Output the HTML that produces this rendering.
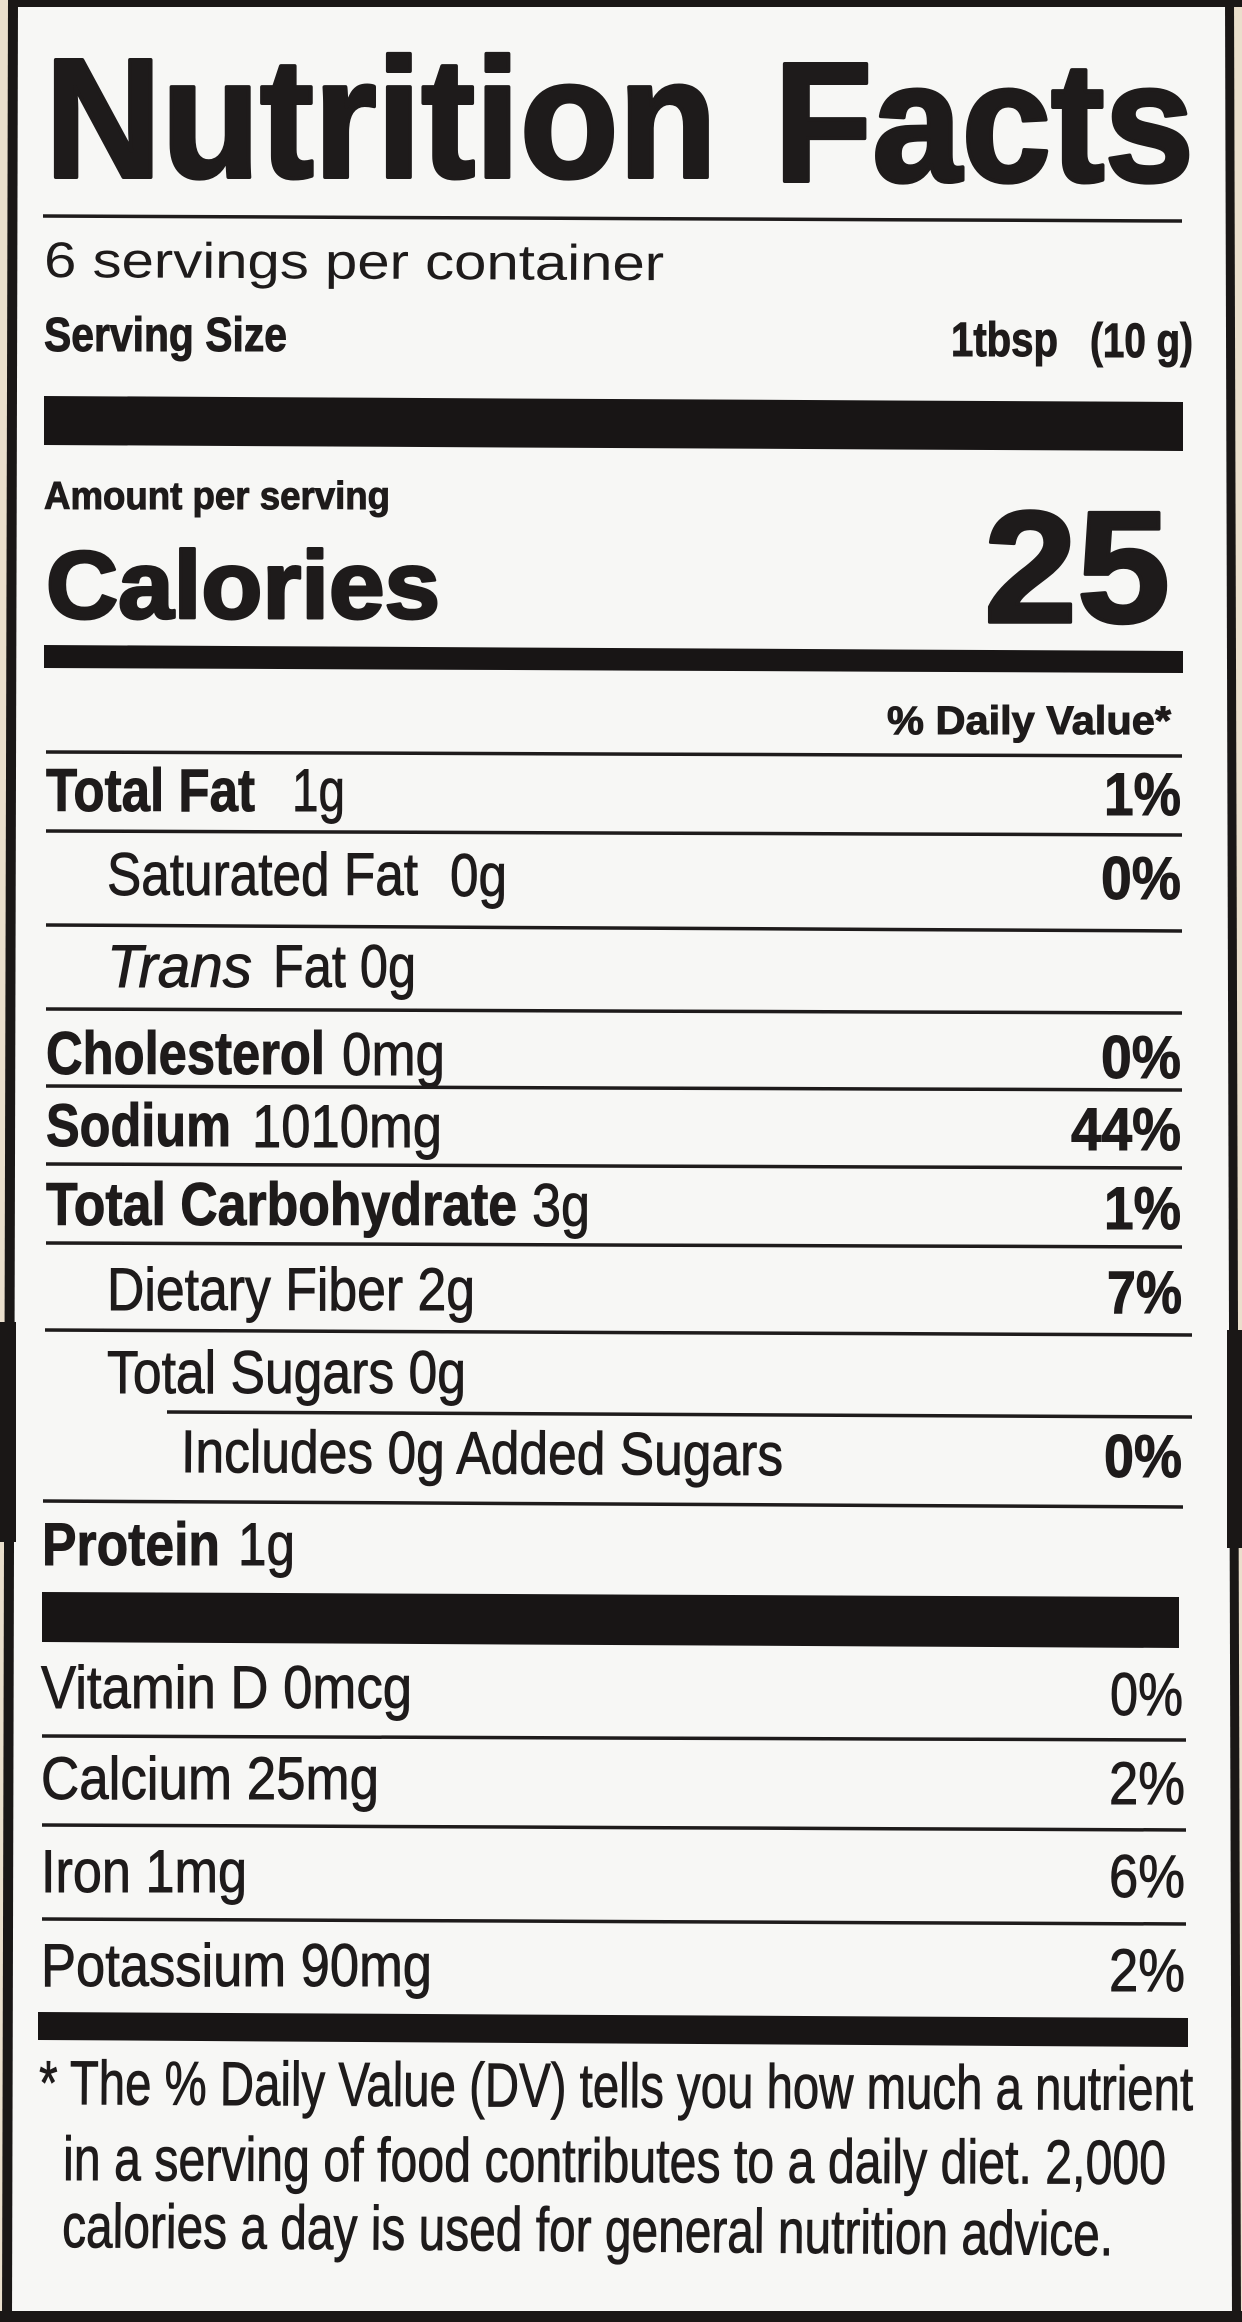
<!DOCTYPE html>
<html>
<head>
<meta charset="utf-8">
<style>
  html,body{margin:0;padding:0;background:#eadfcc;}
  svg{display:block;}
  text{font-family:"Liberation Sans", Arial, sans-serif; fill:#1e1b1b;}
  .b{font-weight:bold; stroke:#1e1b1b; stroke-width:1;}
  .r{font-weight:normal; stroke:#1e1b1b; stroke-width:0.9;}
  .n{font-weight:normal;}
</style>
</head>
<body>
<svg width="1242" height="2322" viewBox="0 0 1242 2322" xmlns="http://www.w3.org/2000/svg">
  <!-- background / frame -->
  <rect x="0" y="0" width="1242" height="2322" fill="#eadfcc"/>
  <polygon points="14,5 1230,5 1236,2312 8,2312" fill="#f7f7f5"/>
  <rect x="8" y="0" width="1234" height="7" fill="#1a1716"/>
  <polygon points="8,0 18,0 12,2322 2,2322" fill="#1a1716"/>
  <polygon points="1225,0 1234,0 1241,2322 1232,2322" fill="#1a1716"/>
  <rect x="0" y="2311" width="1242" height="11" fill="#1a1716"/>
  <rect x="0" y="1322" width="16" height="220" fill="#1a1716"/>
  <rect x="1227" y="1330" width="15" height="218" fill="#1a1716"/>

  <!-- Title -->
  <text class="b" x="45" y="177" font-size="170" textLength="672" lengthAdjust="spacingAndGlyphs" stroke="#1e1b1b" stroke-width="4" stroke-linejoin="round" style="stroke-width:4">Nutrition</text>
  <text class="b" x="774" y="181" font-size="170" textLength="420" lengthAdjust="spacingAndGlyphs" stroke="#1e1b1b" stroke-width="4" stroke-linejoin="round" style="stroke-width:4">Facts</text>

  <line x1="43" y1="216" x2="1182" y2="221" stroke="#1e1b1b" stroke-width="3.5"/>

  <text class="n" x="44" y="277" font-size="50" textLength="620" lengthAdjust="spacingAndGlyphs" transform="rotate(0.3 44 277)">6 servings per container</text>
  <text class="b" x="44" y="351" font-size="48" textLength="243" lengthAdjust="spacingAndGlyphs">Serving Size</text>
  <text class="b" x="951" y="356" font-size="48" textLength="107" lengthAdjust="spacingAndGlyphs">1tbsp</text>
  <text class="b" x="1090" y="357" font-size="48" textLength="103" lengthAdjust="spacingAndGlyphs">(10 g)</text>

  <polygon points="44,396 1183,402 1183,451 44,445" fill="#181515"/>

  <text class="b" x="44" y="509" font-size="39" textLength="346" lengthAdjust="spacingAndGlyphs">Amount per serving</text>
  <text class="b" x="46" y="618" font-size="96" textLength="394" lengthAdjust="spacingAndGlyphs" stroke-linejoin="round" style="stroke-width:3">Calories</text>
  <text class="b" x="984" y="622" font-size="159" textLength="186" lengthAdjust="spacingAndGlyphs" stroke-linejoin="round" style="stroke-width:3.5">25</text>

  <polygon points="44,645 1183,651 1183,673 44,668" fill="#181515"/>

  <text class="b" x="887" y="734" font-size="40" textLength="284" lengthAdjust="spacingAndGlyphs">% Daily Value*</text>
  <line x1="46" y1="752" x2="1182" y2="756" stroke="#1e1b1b" stroke-width="3.5"/>

  <!-- Total Fat -->
  <text class="b" x="46" y="811" font-size="60" textLength="209" lengthAdjust="spacingAndGlyphs">Total Fat</text>
  <text class="r" x="292" y="811" font-size="60" textLength="53" lengthAdjust="spacingAndGlyphs">1g</text>
  <text class="b" x="1104" y="815" font-size="60" textLength="77" lengthAdjust="spacingAndGlyphs">1%</text>
  <line x1="46" y1="831" x2="1182" y2="835" stroke="#1e1b1b" stroke-width="3.5"/>

  <!-- Saturated Fat -->
  <text class="r" x="107" y="895" font-size="60" textLength="311" lengthAdjust="spacingAndGlyphs">Saturated Fat</text>
  <text class="r" x="450" y="896" font-size="60" textLength="57" lengthAdjust="spacingAndGlyphs">0g</text>
  <text class="b" x="1101" y="899" font-size="60" textLength="80" lengthAdjust="spacingAndGlyphs">0%</text>
  <line x1="46" y1="925" x2="1182" y2="931" stroke="#1e1b1b" stroke-width="3.5"/>

  <!-- Trans Fat -->
  <text class="r" x="107" y="987" font-size="60" font-style="italic" textLength="145" lengthAdjust="spacingAndGlyphs">Trans</text>
  <text class="r" x="273" y="987" font-size="60" textLength="143" lengthAdjust="spacingAndGlyphs">Fat 0g</text>
  <line x1="46" y1="1009" x2="1182" y2="1013" stroke="#1e1b1b" stroke-width="3.5"/>

  <!-- Cholesterol -->
  <text class="b" x="46" y="1074" font-size="60" textLength="279" lengthAdjust="spacingAndGlyphs">Cholesterol</text>
  <text class="r" x="342" y="1075" font-size="60" textLength="103" lengthAdjust="spacingAndGlyphs">0mg</text>
  <text class="b" x="1101" y="1078" font-size="60" textLength="80" lengthAdjust="spacingAndGlyphs">0%</text>
  <line x1="46" y1="1086" x2="1182" y2="1090" stroke="#1e1b1b" stroke-width="3.5"/>

  <!-- Sodium -->
  <text class="b" x="46" y="1146" font-size="60" textLength="185" lengthAdjust="spacingAndGlyphs">Sodium</text>
  <text class="r" x="252" y="1147" font-size="60" textLength="190" lengthAdjust="spacingAndGlyphs">1010mg</text>
  <text class="b" x="1071" y="1150" font-size="60" textLength="110" lengthAdjust="spacingAndGlyphs">44%</text>
  <line x1="46" y1="1164" x2="1182" y2="1168" stroke="#1e1b1b" stroke-width="3.5"/>

  <!-- Total Carbohydrate -->
  <text class="b" x="46" y="1225" font-size="60" textLength="471" lengthAdjust="spacingAndGlyphs">Total Carbohydrate</text>
  <text class="r" x="532" y="1226" font-size="60" textLength="58" lengthAdjust="spacingAndGlyphs">3g</text>
  <text class="b" x="1104" y="1229" font-size="60" textLength="77" lengthAdjust="spacingAndGlyphs">1%</text>
  <line x1="46" y1="1243" x2="1182" y2="1247" stroke="#1e1b1b" stroke-width="3.5"/>

  <!-- Dietary Fiber -->
  <text class="r" x="107" y="1310" font-size="60" textLength="368" lengthAdjust="spacingAndGlyphs">Dietary Fiber 2g</text>
  <text class="b" x="1107" y="1313" font-size="60" textLength="75" lengthAdjust="spacingAndGlyphs">7%</text>
  <line x1="45" y1="1330" x2="1192" y2="1335" stroke="#1e1b1b" stroke-width="3.5"/>

  <!-- Total Sugars -->
  <text class="r" x="107" y="1393" font-size="60" textLength="359" lengthAdjust="spacingAndGlyphs">Total Sugars 0g</text>
  <line x1="167" y1="1412" x2="1192" y2="1417" stroke="#1e1b1b" stroke-width="3.5"/>

  <!-- Added Sugars -->
  <text class="r" x="181" y="1472" font-size="60" textLength="602" lengthAdjust="spacingAndGlyphs" transform="rotate(0.3 181 1472)">Includes 0g Added Sugars</text>
  <text class="b" x="1104" y="1477" font-size="60" textLength="78" lengthAdjust="spacingAndGlyphs">0%</text>
  <line x1="43" y1="1501" x2="1183" y2="1507" stroke="#1e1b1b" stroke-width="3.5"/>

  <!-- Protein -->
  <text class="b" x="42" y="1565" font-size="60" textLength="178" lengthAdjust="spacingAndGlyphs">Protein</text>
  <text class="r" x="238" y="1565" font-size="60" textLength="57" lengthAdjust="spacingAndGlyphs">1g</text>

  <polygon points="42,1592 1179,1597 1179,1648 42,1642" fill="#181515"/>

  <!-- Vitamins -->
  <text class="r" x="41" y="1708" font-size="60" textLength="371" lengthAdjust="spacingAndGlyphs">Vitamin D 0mcg</text>
  <text class="r" x="1110" y="1715" font-size="60" textLength="73" lengthAdjust="spacingAndGlyphs">0%</text>
  <line x1="42" y1="1736" x2="1186" y2="1740" stroke="#1e1b1b" stroke-width="3.5"/>

  <text class="r" x="41" y="1799" font-size="60" textLength="338" lengthAdjust="spacingAndGlyphs">Calcium 25mg</text>
  <text class="r" x="1109" y="1804" font-size="60" textLength="76" lengthAdjust="spacingAndGlyphs">2%</text>
  <line x1="42" y1="1825" x2="1186" y2="1830" stroke="#1e1b1b" stroke-width="3.5"/>

  <text class="r" x="41" y="1892" font-size="60" textLength="206" lengthAdjust="spacingAndGlyphs">Iron 1mg</text>
  <text class="r" x="1109" y="1897" font-size="60" textLength="76" lengthAdjust="spacingAndGlyphs">6%</text>
  <line x1="42" y1="1919" x2="1186" y2="1924" stroke="#1e1b1b" stroke-width="3.5"/>

  <text class="r" x="41" y="1986" font-size="60" textLength="391" lengthAdjust="spacingAndGlyphs">Potassium 90mg</text>
  <text class="r" x="1109" y="1991" font-size="60" textLength="76" lengthAdjust="spacingAndGlyphs">2%</text>

  <polygon points="38,2012 1188,2018 1188,2047 38,2040" fill="#181515"/>

  <!-- Footnote -->
  <text class="r" x="39" y="2104" font-size="62" textLength="1154" lengthAdjust="spacingAndGlyphs" transform="rotate(0.3 39 2104)">* The % Daily Value (DV) tells you how much a nutrient</text>
  <text class="r" x="63" y="2180" font-size="62" textLength="1103" lengthAdjust="spacingAndGlyphs" transform="rotate(0.2 63 2180)">in a serving of food contributes to a daily diet. 2,000</text>
  <text class="r" x="62" y="2247" font-size="62" textLength="1051" lengthAdjust="spacingAndGlyphs" transform="rotate(0.45 62 2247)">calories a day is used for general nutrition advice.</text>
</svg>
</body>
</html>
